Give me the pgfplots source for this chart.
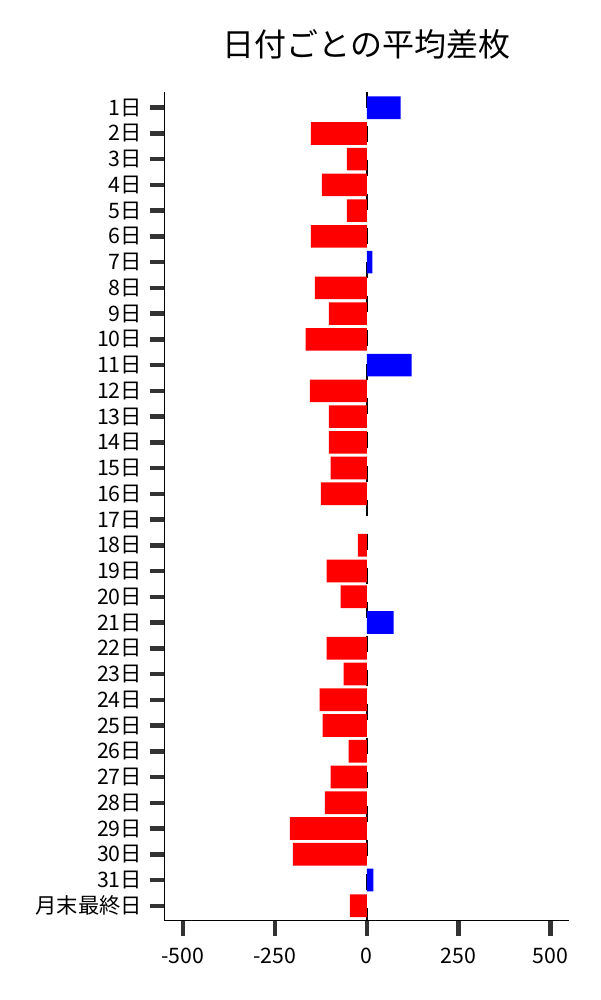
\documentclass[border=0pt]{standalone}
\usepackage{pgfplots}
\pgfplotsset{compat=1.18}
\usepackage{fontspec}
\setmainfont{Noto Sans CJK JP}

\definecolor{tickgray}{HTML}{333333}

% positive days in blue, negative days in red (index 0 = 1日)
\begin{document}
\begin{tikzpicture}
\path[use as bounding box] (0,0) rectangle (600pt,1000pt);
\begin{axis}[
  at={(164.5pt,79.3pt)}, anchor=south west,
  scale only axis, width=404.5pt, height=829pt,
  xmin=-550, xmax=550,
  ymin=-0.62, ymax=31.58, y dir=reverse,
  axis x line=bottom, axis y line=left,
  axis line style={-, line width=1pt, black},
  tick pos=left,
  tick align=outside,
  major tick length=15pt,
  minor tick num=0,
  tick style={line width=4.5pt, tickgray},
  xtick={-500,-250,0,250,500},
  ytick={0,...,31},
  yticklabels={1日,2日,3日,4日,5日,6日,7日,8日,9日,10日,11日,12日,13日,14日,15日,16日,17日,18日,19日,20日,21日,22日,23日,24日,25日,26日,27日,28日,29日,30日,31日,月末最終日},
  ticklabel style={font=\fontsize{21.3}{24}\selectfont},
  xticklabel style={yshift=-9pt},
  yticklabel style={xshift=-4pt},
  /pgf/number format/assume math mode=true,
  title={日付ごとの平均差枚},
  title style={font=\fontsize{32}{36}\selectfont, anchor=base, at={(0.5,1)}, yshift=29pt},
  xbar, bar width=22.7pt, bar shift=0pt,
]
\addplot[sharp plot, forget plot, black, line width=2.2pt, dash pattern=on 16pt off 18pt]
  coordinates {(0,-0.62) (0,31.58)};

\addplot[fill=red, draw=none] coordinates {
  (-152,1) (-54,2) (-122,3) (-54,4) (-152,5) (-141,7) (-103,8) (-166,9)
  (-155,11) (-103,12) (-103,13) (-98,14) (-125,15) (-24,17)
  (-109,18) (-71,19) (-109,21) (-63,22) (-128,23) (-120,24) (-49,25)
  (-98,26) (-114,27) (-209,28) (-201,29) (-46,31)
};
\addplot[fill=blue, draw=none] coordinates {
  (92,0) (15,6) (122,10) (73,20) (18,30)
};
\end{axis}
\end{tikzpicture}
\end{document}
